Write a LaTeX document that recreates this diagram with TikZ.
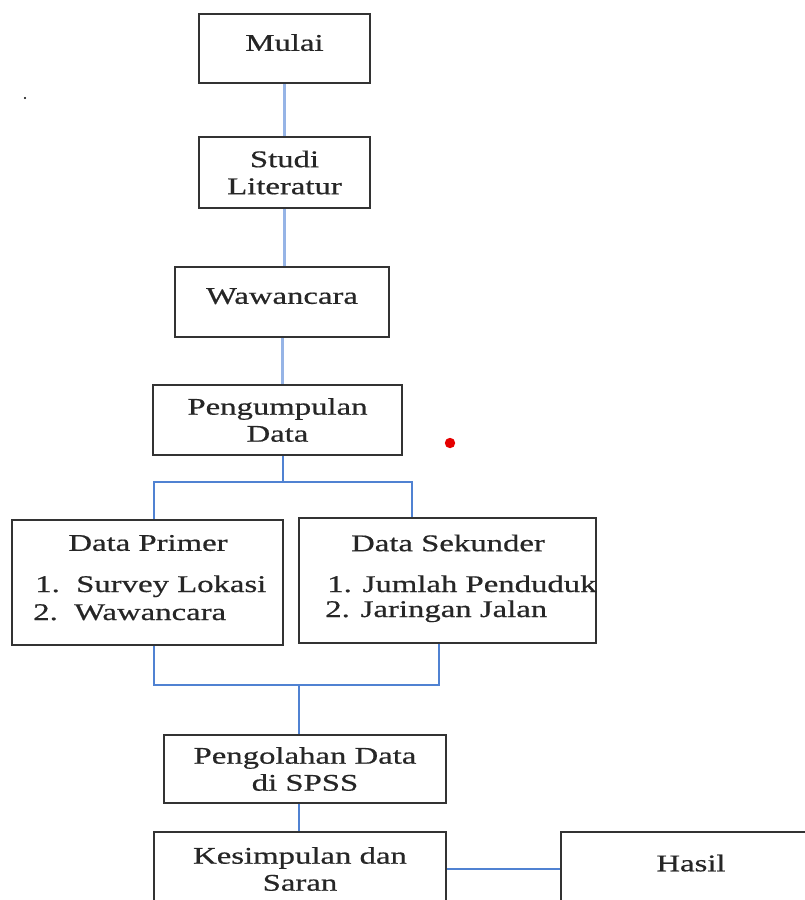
\documentclass[tikz,border=0pt]{standalone}
\usepackage{fontspec}
\setmainfont[FakeStretch=1.37,FakeBold=0.6]{Liberation Serif}
\begin{document}
\begin{tikzpicture}[x=0.025cm,y=-0.025cm,
	txt/.style={inner sep=0pt,text=black!85,font=\fontsize{17pt}{19.2pt}\selectfont},
	box/.style={txt,draw=black!80,line width=0.065cm,align=center},
	single/.style={text depth=0.3cm},
	item/.style={txt,anchor=base west},
	lightlink/.style={draw={rgb,255:red,150;green,180;blue,230},line width=0.075cm},
	link/.style={draw={rgb,255:red,80;green,130;blue,210},line width=0.05cm}]
			\useasboundingbox (0,0) rectangle (804,900);
			\node[box,single,minimum width=4.275cm,minimum height=1.725cm] (mulai) at (284.5,48.5) {Mulai};
			\node[box,minimum width=4.275cm,minimum height=1.775cm] (studi) at (284.5,172.5) {Studi\\Literatur};
			\node[box,single,minimum width=5.35cm,minimum height=1.75cm] (wawancara) at (282,302) {Wawancara};
			\node[box,minimum width=6.225cm,minimum height=1.75cm] (kumpul) at (277.5,420) {Pengumpulan\\Data};
			
			\node[box,minimum width=6.775cm,minimum height=3.125cm] (primer) at (147.5,582.5) {};
			\node[txt] (primerT) at (148,543) {Data Primer};
			\node[item] (primer1) at (35,592) {1.\ \ Survey Lokasi};
			\node[item] (primer2) at (33,620) {2.\ \ Wawancara};
			
			\node[box,minimum width=7.425cm,minimum height=3.125cm] (sekunder) at (447.5,580.5) {};
			\node[txt] (sekunderT) at (448,543) {Data Sekunder};
			\node[item] (sekunder1) at (327,592) {1. Jumlah Penduduk};
			\node[item] (sekunder2) at (325,617) {2. Jaringan Jalan};
			
			\node[box,minimum width=7.05cm,minimum height=1.7cm] (olah) at (305,769) {Pengolahan Data\\di SPSS};
			\node[box,minimum width=7.3cm,minimum height=1.85cm] (simpul) at (300,869) {Kesimpulan dan\\Saran};
			\node[box,single,minimum width=6.5cm,minimum height=1.85cm] (hasil) at (691,869) {Hasil};
			
			\coordinate (split) at (283,482);
			\coordinate (merge) at (299,685);
			
			\draw[lightlink] (mulai) -- (studi);
			\draw[lightlink] (studi.south) -- (studi.south |- wawancara.north);
			\draw[lightlink] (wawancara.south) -- (wawancara.south |- kumpul.north);
			\draw[link] (split |- kumpul.south) -- (split);
			\draw[link] ([xshift=0.16cm]primer.north) |- (split) -| ([xshift=-0.89cm]sekunder.north);
			\draw[link] ([xshift=0.16cm]primer.south) |- (merge) -| ([xshift=-0.21cm]sekunder.south);
			\draw[link] (merge) -- (merge |- olah.north);
			\draw[link] (merge |- olah.south) -- (merge |- simpul.north);
			\draw[link] (simpul.east) -- (hasil.west);
			
			\fill (25,98) circle[radius=0.03cm];
			\fill[red!90!black] (450,443) circle[radius=0.13cm];
\end{tikzpicture}
\end{document}
